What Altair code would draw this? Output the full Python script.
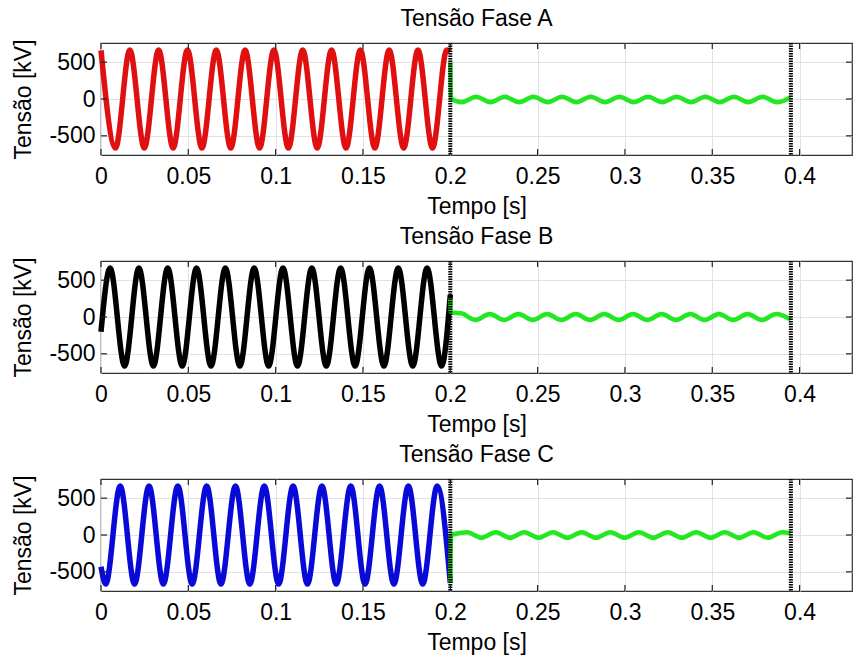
import altair as alt
import pandas as pd

# Axis ticks and ranges
x_ticks = [0, 0.05, 0.1, 0.15, 0.2, 0.25, 0.3, 0.35, 0.4]
y_ticks = [-500, 0, 500]
x_domain = [0, 0.43]
y_domain = [-760, 760]

# Switching instants (dotted markers), in seconds
switch_times = [0.2, 0.395]

# Phase A — energized line: waveform extrema (s, kV)
t_a = [0, 0.0083, 0.0165, 0.0248, 0.033, 0.0413, 0.0495, 0.0578, 0.066, 0.0743,
       0.0825, 0.0908, 0.099, 0.1073, 0.1155, 0.1238, 0.132, 0.1403, 0.1485,
       0.1568, 0.165, 0.1733, 0.1815, 0.1898, 0.198, 0.2]
v_a = [660, -665, 665, -665, 665, -665, 665, -665, 665, -665, 665, -665, 665,
       -665, 665, -665, 665, -665, 665, -665, 665, -665, 665, -665, 665, 650]
# Phase A — after opening
t_a_post = [0.2, 0.2003, 0.2066, 0.2148, 0.223, 0.2312, 0.2394, 0.2476, 0.2558,
            0.264, 0.2722, 0.2804, 0.2886, 0.2968, 0.305, 0.3132, 0.3214, 0.3296,
            0.3378, 0.346, 0.3542, 0.3624, 0.3706, 0.3788, 0.387, 0.395]
v_a_post = [500, 10, -45, 30, -45, 30, -45, 30, -45, 30, -45, 30, -45, 30, -45,
            30, -45, 30, -45, 30, -45, 30, -45, 30, -45, 25]

# Phase B
t_b = [0, 0.0052, 0.0135, 0.0217, 0.03, 0.0382, 0.0465, 0.0547, 0.063, 0.0712,
       0.0795, 0.0877, 0.096, 0.1042, 0.1125, 0.1207, 0.129, 0.1372, 0.1455,
       0.1537, 0.162, 0.1702, 0.1785, 0.1867, 0.195, 0.2]
v_b = [-200, 665, -665, 665, -665, 665, -665, 665, -665, 665, -665, 665, -665,
       665, -665, 665, -665, 665, -665, 665, -665, 665, -665, 665, -665, 300]
t_b_post = [0.2, 0.2003, 0.2062, 0.2144, 0.2226, 0.2308, 0.239, 0.2472, 0.2554,
            0.2636, 0.2718, 0.28, 0.2882, 0.2964, 0.3046, 0.3128, 0.321, 0.3292,
            0.3374, 0.3456, 0.3538, 0.362, 0.3702, 0.3784, 0.3866, 0.395]
v_b_post = [255, 60, 50, -40, 40, -40, 40, -40, 40, -40, 40, -40, 40, -40, 40,
            -40, 40, -40, 40, -40, 40, -40, 40, -40, 40, -35]

# Phase C
t_c = [0, 0.0027, 0.011, 0.0192, 0.0275, 0.0357, 0.044, 0.0522, 0.0605, 0.0687,
       0.077, 0.0852, 0.0935, 0.1017, 0.11, 0.1182, 0.1265, 0.1347, 0.143,
       0.1512, 0.1595, 0.1677, 0.176, 0.1842, 0.1925, 0.2]
v_c = [-430, -665, 665, -665, 665, -665, 665, -665, 665, -665, 665, -665, 665,
       -665, 665, -665, 665, -665, 665, -665, 665, -665, 665, -665, 665, -650]
t_c_post = [0.2, 0.2004, 0.2096, 0.2178, 0.226, 0.2342, 0.2424, 0.2506, 0.2588,
            0.267, 0.2752, 0.2834, 0.2916, 0.2998, 0.308, 0.3162, 0.3244, 0.3326,
            0.3408, 0.349, 0.3572, 0.3654, 0.3736, 0.3818, 0.39, 0.395]
v_c_post = [-650, 0, 38, -38, 38, -38, 38, -38, 38, -38, 38, -38, 38, -38, 38,
            -38, 38, -38, 38, -38, 38, -38, 38, -38, 38, 25]

FONT = "Liberation Sans"
FS = 23
W, H = 751, 112
GREEN = "#22e822"
TICK_LEN = 6

x_enc = alt.X(
    "t:Q",
    scale=alt.Scale(domain=x_domain, nice=False, zero=False),
    axis=alt.Axis(values=x_ticks, title="Tempo [s]", labelExpr="'' + datum.value",
                  labelPadding=10, titlePadding=7, labelFlush=False),
)
y_enc = alt.Y(
    "v:Q",
    scale=alt.Scale(domain=y_domain, nice=False, zero=False),
    axis=alt.Axis(values=y_ticks, title="Tensão [kV]", labelExpr="'' + datum.value",
                  labelPadding=6, titlePadding=13),
)

xt = pd.DataFrame({"t": x_ticks})
yt = pd.DataFrame({"v": y_ticks})
sw = pd.DataFrame({"t": switch_times})


def panel(title, t_pre, v_pre, t_post, v_post, color):
    pre = pd.DataFrame({"t": t_pre, "v": v_pre})
    post = pd.DataFrame({"t": t_post, "v": v_post})
    pre_line = alt.Chart(pre).mark_line(
        color=color, strokeWidth=5.5, interpolate="monotone"
    ).encode(x=x_enc, y=y_enc)
    post_line = alt.Chart(post).mark_line(
        color=GREEN, strokeWidth=4.5, interpolate="monotone"
    ).encode(x=x_enc, y=y_enc)
    markers = alt.Chart(sw).mark_rule(
        color="black", strokeWidth=4, strokeDash=[1.5, 1]
    ).encode(x=x_enc)
    tick_style = dict(color="#222222", strokeWidth=1.2)
    top_ticks = alt.Chart(xt).mark_rule(**tick_style).encode(
        x=x_enc, y=alt.value(0), y2=alt.value(TICK_LEN))
    bottom_ticks = alt.Chart(xt).mark_rule(**tick_style).encode(
        x=x_enc, y=alt.value(H - TICK_LEN), y2=alt.value(H))
    left_ticks = alt.Chart(yt).mark_rule(**tick_style).encode(
        y=y_enc, x=alt.value(0), x2=alt.value(TICK_LEN))
    right_ticks = alt.Chart(yt).mark_rule(**tick_style).encode(
        y=y_enc, x=alt.value(W - TICK_LEN), x2=alt.value(W))
    return alt.layer(
        pre_line, post_line, markers, top_ticks, bottom_ticks, left_ticks, right_ticks
    ).properties(
        width=W, height=H,
        title=alt.TitleParams(title, fontSize=FS, font=FONT, fontWeight="normal",
                              color="black", anchor="middle", offset=8),
    )


chart = alt.vconcat(
    panel("Tensão Fase A", t_a, v_a, t_a_post, v_a_post, "#e01010"),
    panel("Tensão Fase B", t_b, v_b, t_b_post, v_b_post, "black"),
    panel("Tensão Fase C", t_c, v_c, t_c_post, v_c_post, "#0a0ad8"),
    spacing=6,
).properties(
    padding={"left": 12, "top": 7, "right": 0, "bottom": 0},
    background="white",
).configure_view(
    stroke="#333333", strokeWidth=1.2,
).configure_axis(
    labelFont=FONT, titleFont=FONT, labelFontSize=FS, titleFontSize=FS,
    titleFontWeight="normal", labelColor="black", titleColor="black",
    grid=True, gridColor="#e2e2e2", gridWidth=1, ticks=False, domain=False,
)

chart.save("out.html", embed_options={"renderer": "svg", "actions": False})
